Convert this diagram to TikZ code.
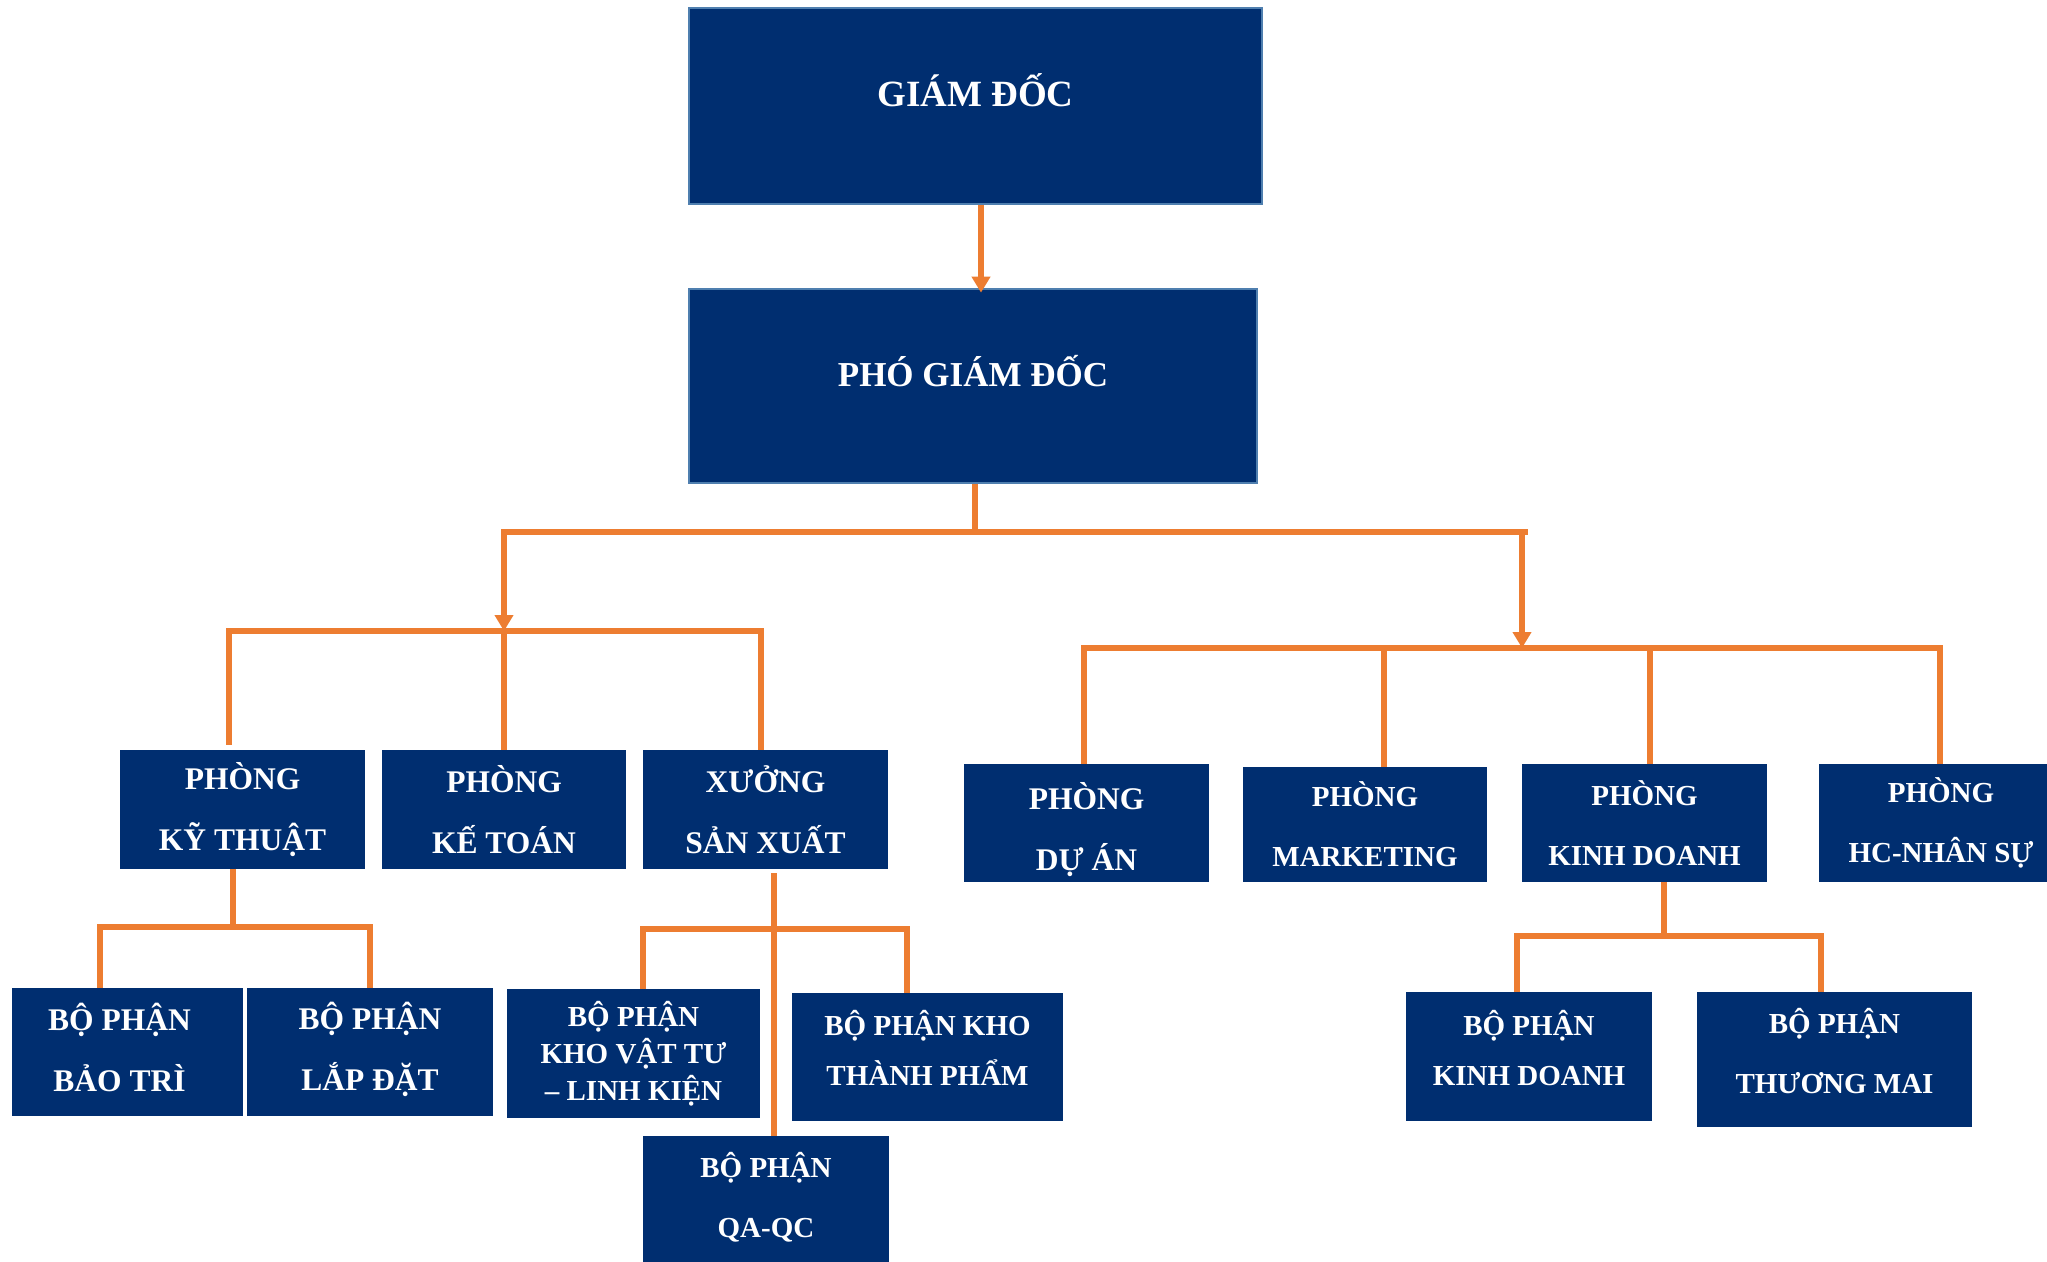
\documentclass[tikz,border=0pt]{standalone}
\usepackage{fontspec}
\setmainfont{Liberation Serif}
\usetikzlibrary{arrows.meta}
\definecolor{navy}{RGB}{0,46,112}
\definecolor{edgeblue}{RGB}{79,127,175}
\definecolor{org}{RGB}{237,125,49}
\newcommand{\padR}[1]{\rule{#1}{0pt}}
\newcommand{\padD}[1]{\rule[-#1]{0pt}{0pt}}
\newcommand{\padU}[1]{\rule{0pt}{#1}}
\begin{document}
\begin{tikzpicture}[x=1pt,y=-1pt,
  sz/.style 2 args={minimum width=#1pt, minimum height=#2pt},
  box/.style={fill=navy, draw=none, inner sep=0pt, text=white, font=\bfseries\fontsize{29}{60}\selectfont, align=center},
  bigfont/.style={font=\bfseries\fontsize{31.5}{61}\selectfont},
  topbox/.style={box, draw=edgeblue, line width=2.7pt, text height=30pt, text depth=30pt},
  conn/.style={draw=org, line width=6pt},
  bus/.style={conn, line cap=rect},
  arr/.style={conn, -{Triangle[width=18pt,length=16pt]}}]
\useasboundingbox (0,0) rectangle (2047,1261);
\fill[white] (0,0) rectangle (2047,1261);

% top boxes
\node[topbox, sz={573}{196}, font=\bfseries\fontsize{37}{44}\selectfont] (gd) at (975.5,106) {GIÁM ĐỐC};
\node[topbox, sz={568}{194}, font=\bfseries\fontsize{35}{44}\selectfont] (pgd) at (973,386) {PHÓ GIÁM ĐỐC};

% departments
\node[box, bigfont, sz={245}{119}] (kt) at (242.5,809.5) {PHÒNG\\KỸ THUẬT};
\node[box, bigfont, sz={244}{119}] (ketoan) at (504,809.5) {PHÒNG\\KẾ TOÁN};
\node[box, bigfont, sz={245}{119}] (xsx) at (765.5,809.5) {XƯỞNG\\SẢN XUẤT};
\node[box, bigfont, sz={245}{118}] (duan) at (1086.5,823) {\padU{40pt}PHÒNG\\DỰ ÁN};
\node[box, sz={244}{115}] (mkt) at (1365,824.5) {PHÒNG\\MARKETING};
\node[box, sz={245}{118}] (kd) at (1644.5,823) {PHÒNG\\KINH DOANH};
\begin{scope}
\clip (0,0) rectangle (2047,1261);
\node[box, sz={244}{118}] (hc) at (1941,823) {PHÒNG\\HC-NHÂN SỰ};
\node[box, sz={246}{135}] (qaqc) at (766,1203.5) {BỘ PHẬN\\QA-QC\padD{18pt}};
\end{scope}

% sub-units
\node[box, bigfont, sz={231}{128}] (baotri) at (127.5,1052) {BỘ PHẬN\padR{16pt}\\BẢO TRÌ\padR{16pt}\padD{10pt}};
\node[box, bigfont, sz={246}{128}] (lapdat) at (370,1052) {BỘ PHẬN\\LẮP ĐẶT\padD{11pt}};
\node[box, sz={253}{129}, font=\bfseries\fontsize{29}{37}\selectfont] (khovt) at (633.5,1053.5) {BỘ PHẬN\\KHO VẬT TƯ\\– LINH KIỆN};
\node[box, sz={271}{128}, font=\bfseries\fontsize{29}{50}\selectfont] (khotp) at (927.5,1057) {BỘ PHẬN KHO\\THÀNH PHẨM\padD{18pt}};
\node[box, sz={246}{129}, font=\bfseries\fontsize{29}{50}\selectfont] (bpkd) at (1529,1056.5) {BỘ PHẬN\\KINH DOANH\padD{18pt}};
\node[box, sz={275}{135}] (tm) at (1834.5,1059.5) {BỘ PHẬN\\THƯƠNG MAI\padD{18pt}};

% director -> vice director
\coordinate (ax) at (981,0);
\draw[arr, shorten >=-5pt] (gd.south -| ax) -- (pgd.north -| ax);

% main bus
\coordinate (j0) at (975,532);
\coordinate (jL) at (504,532);
\coordinate (jR) at (1525,532);
\coordinate (jR2) at (1522,532);
\draw[conn] (pgd.south -| j0) -- (j0);
\draw[bus] (jL) -- (jR);

% left group
\coordinate (bL1) at (229,631);
\coordinate (bLm) at (504,631);
\coordinate (bL3) at (761,631);
\draw[arr] (jL) -- (bLm);
\draw[bus] (bL1) -- (bL3);
\draw[conn, shorten >=5pt] (bL1) -- (bL1 |- kt.north);
\draw[conn] (bLm) -- (ketoan.north);
\draw[conn] (bL3) -- (bL3 |- xsx.north);

% right group
\coordinate (bRm) at (1522,648);
\coordinate (bR1) at (1084,648);
\coordinate (bR2) at (1384,648);
\coordinate (bR3) at (1650,648);
\coordinate (bR4) at (1940,648);
\draw[arr] (jR2) -- (bRm);
\draw[bus] (bR1) -- (bR4);
\draw[conn] (bR1) -- (bR1 |- duan.north);
\draw[conn] (bR2) -- (bR2 |- mkt.north);
\draw[conn] (bR3) -- (bR3 |- kd.north);
\draw[conn] (bR4) -- (bR4 |- hc.north);

% ky thuat subtree
\coordinate (k0) at (233,927);
\coordinate (k1) at (100,927);
\coordinate (k2) at (370,927);
\draw[conn] (kt.south -| k0) -- (k0);
\draw[bus] (k1) -- (k2);
\draw[conn] (k1) -- (k1 |- baotri.north);
\draw[conn] (k2) -- (k2 |- lapdat.north);

% xuong san xuat subtree
\coordinate (x0) at (774,929);
\coordinate (x1) at (643,929);
\coordinate (x2) at (907,929);
\draw[conn, shorten <=4pt] (xsx.south -| x0) -- (x0 |- qaqc.north);
\draw[bus] (x1) -- (x2);
\draw[conn] (x1) -- (x1 |- khovt.north);
\draw[conn] (x2) -- (x2 |- khotp.north);

% kinh doanh subtree
\coordinate (d0) at (1664,936);
\coordinate (d1) at (1517,936);
\coordinate (d2) at (1821,936);
\draw[conn] (kd.south -| d0) -- (d0);
\draw[bus] (d1) -- (d2);
\draw[conn] (d1) -- (d1 |- bpkd.north);
\draw[conn] (d2) -- (d2 |- tm.north);
\end{tikzpicture}
\end{document}
